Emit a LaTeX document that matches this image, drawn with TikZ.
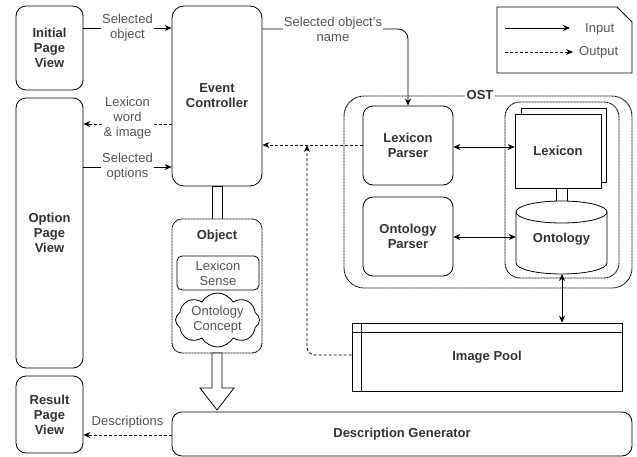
\documentclass[tikz,border=0pt]{standalone}
\usepackage{fontspec}
\setmainfont{Liberation Sans}
\usetikzlibrary{arrows.meta,shapes.symbols,calc}
\definecolor{txt}{RGB}{51,51,51}
\definecolor{lbl}{RGB}{85,85,85}
\newcommand{\fsz}{\fontsize{13}{15}\selectfont}
\tikzset{
  base/.style={line width=0.8pt,draw=black},
  bold/.style={font=\fsz\bfseries,text=txt},
  box/.style={base,rounded corners=10pt,align=center,bold,fill=white,inner sep=0pt},
  dotbox/.style={line width=0.9pt,draw=black,dash pattern=on 1pt off 0.5pt},
  lab/.style={fill=white,align=center,text=lbl,inner sep=1pt,font=\fsz},
  tip/.style={-{Stealth[length=7pt,width=6pt]}},
  tips/.style={{Stealth[length=7pt,width=6pt]}-{Stealth[length=7pt,width=6pt]}},
  conn/.style={base,tip},
  dconn/.style={base,tip,dash pattern=on 3pt off 2pt},
}
\begin{document}
\begin{tikzpicture}[x=1pt,y=-1pt,font=\fsz]
\useasboundingbox (0,0) rectangle (637,457);
% helper coordinates for rows
\coordinate (r28) at (0,28);
\coordinate (r29) at (0,29);
\coordinate (r124) at (0,124);
\coordinate (r145) at (0,145);
\coordinate (r167) at (0,167);
\coordinate (r355) at (0,355);
\coordinate (r435) at (0,435);
\coordinate (c307) at (307,0);
\coordinate (c408) at (408,0);
\coordinate (c562) at (562,0);

% left views
\node[box,minimum width=67pt,minimum height=84pt] (init) at (49.5,48) {Initial\\Page\\View};
\node[box,minimum width=67pt,minimum height=270pt] (opt) at (49.5,233) {Option\\Page\\View};
\node[box,minimum width=67pt,minimum height=77pt] (res) at (49.5,414.5) {Result\\Page\\View};

% event controller
\node[box,rounded corners=12pt,minimum width=90pt,minimum height=180pt] (ec) at (217,96) {Event\\Controller};

% EC - object link
\draw[base,fill=white] (212,186) rectangle (222,219);

% object container
\node[dotbox,rounded corners=10pt,minimum width=90pt,minimum height=134pt,fill=white] (obj) at (217,286) {};
\node[bold] (objl) at (217,236) {Object};
\node[base,rounded corners=5pt,minimum width=82pt,minimum height=34pt,align=center,text=lbl,inner sep=0pt] (sense) at (218,273) {Lexicon\\Sense};
\node[base,cloud,cloud puffs=8,cloud puff arc=120,aspect=1.8,minimum width=84pt,minimum height=48pt,inner sep=0pt,align=center,text=lbl] (concept) at (217.5,320) {Ontology\\Concept};

% hollow arrow
\draw[base,fill=white] (212,353) -- (222,353) -- (222,388) -- (234,388) -- (217,410) -- (200,388) -- (212,388) -- cycle;

% description generator
\node[box,minimum width=460pt,minimum height=44pt] (dg) at (402,434) {Description Generator};

% legend
\draw[base] (497,7) -- (617,7) -- (632,22) -- (632,73) -- (497,73) -- cycle;
\coordinate (li1) at (505,28);
\coordinate (li2) at (570,28);
\coordinate (lo1) at (505,52);
\coordinate (lo2) at (573,52);
\draw[conn] (li1) -- (li2);
\draw[dconn] (lo1) -- (lo2);
\node[text=lbl,anchor=west,inner sep=0pt] (lin) at (585,29) {Input};
\node[text=lbl,anchor=west,inner sep=0pt] (lout) at (579,52) {Output};

% OST container
\draw[dotbox,rounded corners=20pt] (344,96) rectangle (632,288);
\node[bold,fill=white,inner sep=2pt] (ost) at (480,95) {OST};
\node[box,minimum width=90pt,minimum height=79pt] (lp) at (408,145.5) {Lexicon\\Parser};
\node[box,minimum width=90pt,minimum height=79pt] (op) at (408,236.5) {Ontology\\Parser};
\draw[dotbox,rounded corners=15pt] (505,102) rectangle (619,278);

% lexicon document stack
\draw[base,fill=white] (521,108) rectangle (606,182);
\node[base,fill=white,minimum width=86pt,minimum height=74pt,bold,inner sep=0pt] (lex) at (558,151) {Lexicon};
\draw[base,fill=white] (556,188) rectangle (567,201);

% ontology cylinder
\node[minimum width=91pt,minimum height=73pt,inner sep=0pt] (onto) at (561.5,237.5) {};
\draw[base,fill=white] (516,212) -- (516,263) arc[start angle=180,end angle=360,x radius=45.5pt,y radius=11pt] -- (607,212) arc[start angle=0,end angle=180,x radius=45.5pt,y radius=11pt] -- cycle;
\draw[base] (516,212) arc[start angle=180,end angle=360,x radius=45.5pt,y radius=11pt];
\node[bold] (ontol) at (561.5,239) {Ontology};

% image pool
\node[base,minimum width=270pt,minimum height=68pt,bold,inner sep=0pt] (pool) at (487,357) {Image Pool};
\draw[base] (352,332) -- (622,332);
\draw[base] (361,323) -- (361,391);

% connectors
\draw[conn] (init.east |- r28) -- node[lab] {Selected\\object} (ec.west |- r28);
\draw[dconn] (ec.west |- r124) -- node[lab,yshift=6pt] {Lexicon\\word\\\& image} (opt.east |- r124);
\draw[conn] (opt.east |- r167) -- node[lab] {Selected\\options} (ec.west |- r167);
\draw[conn,rounded corners=10pt] (ec.east |- r29) -- (c408 |- r29) -- (lp.north);
\node[lab] (sname) at (333,29) {Selected object's\\name};
\draw[dconn] (lp.west |- r145) -- (ec.east |- r145);
\draw[dconn,rounded corners=8pt] (pool.west |- r355) -- (c307 |- r355) -- (c307 |- r145);
\draw[base,tips] (lp.east |- 0,147) -- (lex.west |- 0,147);
\draw[base,tips] (op.east |- 0,237) -- (onto.west |- 0,237);
\draw[base,tips] (c562 |- 0,274) -- (c562 |- pool.north);
\draw[dconn] (dg.west |- r435) -- node[lab,above=5pt,fill=none] {Descriptions} (res.east |- r435);
\end{tikzpicture}
\end{document}
